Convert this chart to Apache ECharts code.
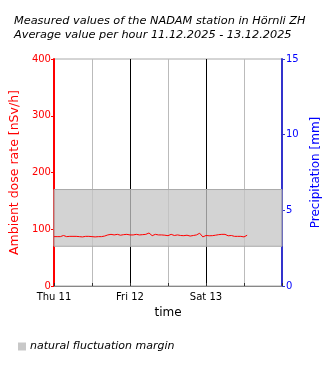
<!DOCTYPE html>
<html>
<head>
<meta charset="utf-8">
<script src="https://cdn.jsdelivr.net/npm/echarts@6/dist/echarts.min.js"></script>
<style>
  html, body { margin: 0; padding: 0; background: #fff; }
  #chart { width: 330px; height: 370px; }
</style>
</head>
<body>
<div id="chart"></div>
<script>
// Hourly average ambient dose rate (nSv/h), starting Thu 11.12.2025 00:00
const doseRate = [
  87, 87, 87, 89, 87, 87.5, 87.5, 87.5, 87, 86.5, 87.5, 87.5,
  87, 86.5, 87, 87, 88, 90, 91, 90, 91, 89.5, 90.5, 91,
  90, 90, 91, 90, 90.5, 91, 93.4, 88.7, 91, 90, 90, 89.5,
  88.7, 91, 89, 90, 89, 88.7, 89.5, 88, 89, 90, 93, 86.5,
  89, 88.5, 88.7, 89.5, 90.5, 91, 91, 88.5, 89, 87.5, 87.5, 87.5,
  86.5, 89.5
];
// Natural fluctuation margin (nSv/h)
const marginRange = [70, 170];
// Day labels on the time axis (hours since start -> label)
const dayTicks = [0, 24, 48];
const dayLabels = ['Thu 11', 'Fri 12', 'Sat 13'];
const titleLines = [
  'Measured values of the NADAM station in Hörnli ZH',
  'Average value per hour 11.12.2025 - 13.12.2025'
];

const seriesData = doseRate.map((v, i) => [i, v]);
const font = 'DejaVu Sans';

const chart = echarts.init(document.getElementById('chart'), null, { renderer: 'canvas' });
chart.setOption({
  animation: false,
  backgroundColor: '#fff',
  title: {
    text: titleLines.join('\n'),
    left: 9, top: 9,
    textStyle: { fontFamily: font, fontSize: 11.3, fontStyle: 'italic', fontWeight: 'normal', color: '#000', lineHeight: 14 }
  },
  legend: {
    data: ['natural fluctuation margin'],
    left: 13, top: 336,
    icon: 'rect', itemWidth: 8, itemHeight: 8, itemGap: 4,
    textStyle: { fontFamily: font, fontSize: 11, fontStyle: 'italic', color: '#000', padding: [0, 0, 0, -1] }
  },
  grid: {
    left: 53, right: 48, top: 59, bottom: 84,
    show: true, borderColor: '#aaa', borderWidth: 1, backgroundColor: 'transparent'
  },
  xAxis: {
    type: 'value', min: 0, max: 72, interval: 12,
    name: 'time', nameLocation: 'middle', nameGap: 20,
    nameTextStyle: { fontFamily: font, fontSize: 12, color: '#000' },
    axisLine: { lineStyle: { color: '#888', width: 1 } },
    axisTick: { show: true, length: 3, inside: true, lineStyle: { color: '#333' } },
    axisLabel: {
      fontFamily: font, fontSize: 10, color: '#000', margin: 6,
      formatter: v => { const k = dayTicks.indexOf(v); return k >= 0 ? dayLabels[k] : ''; }
    },
    splitLine: {
      show: true,
      lineStyle: { color: ['#bbb', '#bbb', '#000', '#bbb', '#000', '#bbb', '#bbb'], width: 1 }
    }
  },
  yAxis: [
    {
      type: 'value', min: 0, max: 400, interval: 100, position: 'left',
      name: 'Ambient dose rate [nSv/h]', nameLocation: 'middle', nameGap: 26, nameRotate: 90,
      nameTextStyle: { fontFamily: font, fontSize: 12.5, color: '#f00' },
      axisLine: { show: true, lineStyle: { color: '#f00', width: 2 } },
      axisTick: { show: true, length: 3, lineStyle: { color: '#f00' } },
      axisLabel: { fontFamily: font, fontSize: 10, color: '#f00', margin: 3 },
      splitLine: { show: false }
    },
    {
      type: 'value', min: 0, max: 15, interval: 5, position: 'right',
      name: 'Precipitation [mm]', nameLocation: 'middle', nameGap: 25, nameRotate: 90,
      nameTextStyle: { fontFamily: font, fontSize: 12, color: '#00f' },
      axisLine: { show: true, lineStyle: { color: '#33c', width: 2 } },
      axisTick: { show: true, length: 3, lineStyle: { color: '#33c' } },
      axisLabel: { fontFamily: font, fontSize: 10, color: '#00f', margin: 4 },
      splitLine: { show: false }
    }
  ],
  series: [
    {
      name: 'natural fluctuation margin',
      type: 'line', yAxisIndex: 0, data: [],
      itemStyle: { color: '#c8c8c8' },
      lineStyle: { width: 0 },
      markArea: {
        silent: true,
        itemStyle: { color: 'rgba(197,197,197,0.76)', borderColor: '#aaa', borderWidth: 1 },
        data: [[{ yAxis: marginRange[0] }, { yAxis: marginRange[1] }]]
      }
    },
    {
      name: 'Ambient dose rate',
      type: 'line', yAxisIndex: 0,
      data: seriesData,
      showSymbol: false, symbol: 'none',
      lineStyle: { color: '#f00', width: 1 },
      itemStyle: { color: '#f00' },
      z: 5
    }
  ]
});
</script>
</body>
</html>
